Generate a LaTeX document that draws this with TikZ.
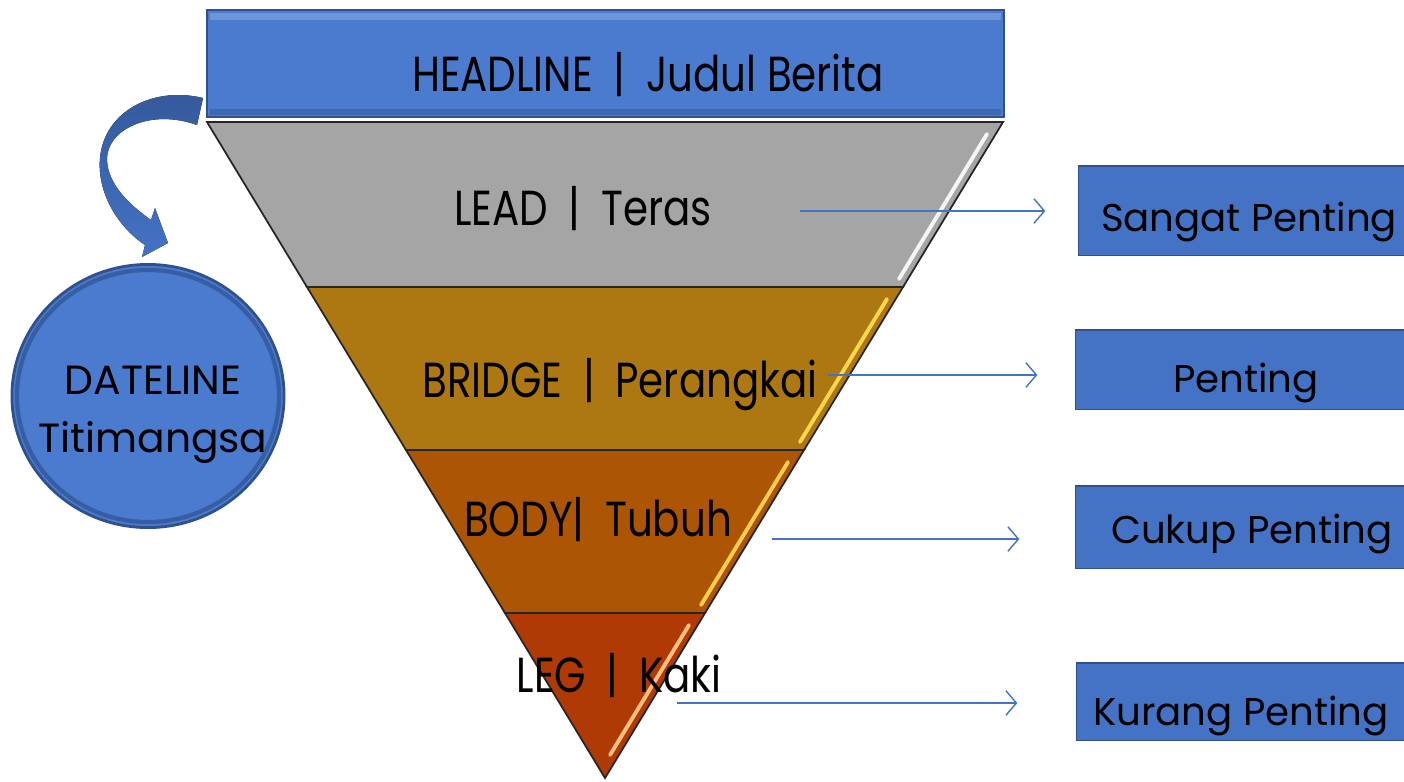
\documentclass[tikz,border=0pt]{standalone}
\usepackage{fontspec}
\setmainfont{Poppins}
\newfontfamily\narrowfont[FakeStretch=0.82]{Poppins}
\usetikzlibrary{arrows.meta,positioning,shapes.geometric}

\definecolor{boxblue}{HTML}{4472C4}
\definecolor{headblue}{HTML}{4A7BCF}
\definecolor{edgeblue}{HTML}{2F528F}
\definecolor{arrowdark}{HTML}{34599A}
\definecolor{leadgray}{HTML}{A5A5A5}
\definecolor{bridgegold}{HTML}{AD7812}
\definecolor{bodybrown}{HTML}{AC5505}
\definecolor{legred}{HTML}{B03A06}

\newcommand{\gap}{\hspace{0.42em}}

\begin{document}
\begin{tikzpicture}[x=0.01cm, y=-0.01cm,
    bandtext/.style={anchor=mid, inner sep=0pt, font=\narrowfont\fontsize{14}{16}\selectfont},
    ranktext/.style={anchor=mid, inner sep=0pt, font=\fontsize{11}{13}\selectfont},
    rankbox/.style={draw=edgeblue, line width=0.3pt, fill=boxblue, inner sep=0pt},
    band/.style={draw=black!85, line width=0.5pt},
    shine/.style={line width=1.1pt, line cap=round},
    pointer/.style={draw=boxblue, line width=0.4pt, -{Straight Barb[length=3pt,width=7pt]}}]

\path[use as bounding box, clip] (0,0) rectangle (1404,781);

% headline
\node[draw=edgeblue, fill=headblue, line width=0.5pt, inner sep=0pt,
      minimum width=7.97cm, minimum height=1.07cm] (headline) at (605.5,63.5) {};
\fill[white, opacity=0.2] ([shift={(4,4)}]headline.north west) rectangle ([shift={(-4,11)}]headline.north east);
\fill[black, opacity=0.15] ([shift={(4,-9)}]headline.south west) rectangle ([shift={(-4,-3)}]headline.south east);
\node[bandtext] (headtext) at (648,82) {HEADLINE\gap|\gap Judul Berita};

% pyramid bands
\filldraw[band, fill=leadgray] (207,122) -- (1003,122) -- (903,287) -- (307,287) -- cycle;
\filldraw[band, fill=bridgegold] (307,287) -- (903,287) -- (804,450) -- (406,450) -- cycle;
\filldraw[band, fill=bodybrown] (406,450) -- (804,450) -- (705,613) -- (505,613) -- cycle;
\filldraw[band, fill=legred] (505,613) -- (705,613) -- (605,778) -- cycle;

% highlights on the right side
\draw[shine, white!92!gray] (987,134) -- (899,279);
\draw[shine, yellow!60!orange!70!white] (887,299) -- (800,442);
\draw[shine, orange!55!yellow!70!white] (788,462) -- (701,605);
\draw[shine, orange!50!white] (689,625) -- (610,755);

\node[bandtext] (lead) at (583,216) {LEAD\gap|\gap Teras};
\node[bandtext] (bridge) at (620,388) {BRIDGE\gap|\gap Perangkai};
\node[bandtext] (body) at (598,527) {BODY|\gap Tubuh};
\node[bandtext] (leg) at (619,683) {LEG\gap|\gap Kaki};

% dateline
\node[ellipse, draw=edgeblue, fill=headblue, line width=0.8pt,
      minimum width=2.72cm, minimum height=2.63cm] (dateline) at (148,396) {};
\draw[edgeblue!70!headblue, line width=1.2pt] (dateline.center) ellipse [x radius=131, y radius=126];
\node[align=center, inner sep=0pt, font=\fontsize{11.6}{16.5}\selectfont] (datetext) at (153,415) {DATELINE\\Titimangsa};

% curved arrow from headline to dateline
\fill[top color=arrowdark, bottom color=boxblue]
    (203,98) .. controls (150,85) and (95,115) .. (100,172)
    .. controls (103,205) and (125,232) .. (145,245)
    -- (142,257) -- (168,243) -- (155,208) -- (151,220)
    .. controls (130,205) and (108,185) .. (107,160)
    .. controls (106,130) and (150,108) .. (197,125) -- cycle;

% importance boxes
\node[rankbox, minimum width=3.42cm, minimum height=0.89cm] (sangat) at (1250,210.5) {};
\node[rankbox, minimum width=3.40cm, minimum height=0.79cm] (penting) at (1246,369.5) {};
\node[rankbox, minimum width=3.52cm, minimum height=0.82cm] (cukup) at (1252,527) {};
\node[rankbox, minimum width=3.28cm, minimum height=0.77cm] (kurang) at (1241,701.5) {};

\node[ranktext] (sangattext) at (1249,222) {Sangat Penting};
\node[ranktext] (pentingtext) at (1246,383) {Penting};
\node[ranktext] (cukuptext) at (1252,534) {Cukup Penting};
\node[ranktext] (kurangtext) at (1241,716) {Kurang Penting};

% pointers
\coordinate (leadfrom) at (800,211);
\coordinate (bridgefrom) at (828,375);
\coordinate (bodyfrom) at (772,539);
\coordinate (legfrom) at (677,703);

\draw[pointer, shorten >=0.33cm] (leadfrom) -- (leadfrom -| sangat.west);
\draw[pointer, shorten >=0.38cm] (bridgefrom) -- (bridgefrom -| penting.west);
\draw[pointer, shorten >=0.56cm] (bodyfrom) -- (bodyfrom -| cukup.west);
\draw[pointer, shorten >=0.59cm] (legfrom) -- (legfrom -| kurang.west);
\end{tikzpicture}
\end{document}
